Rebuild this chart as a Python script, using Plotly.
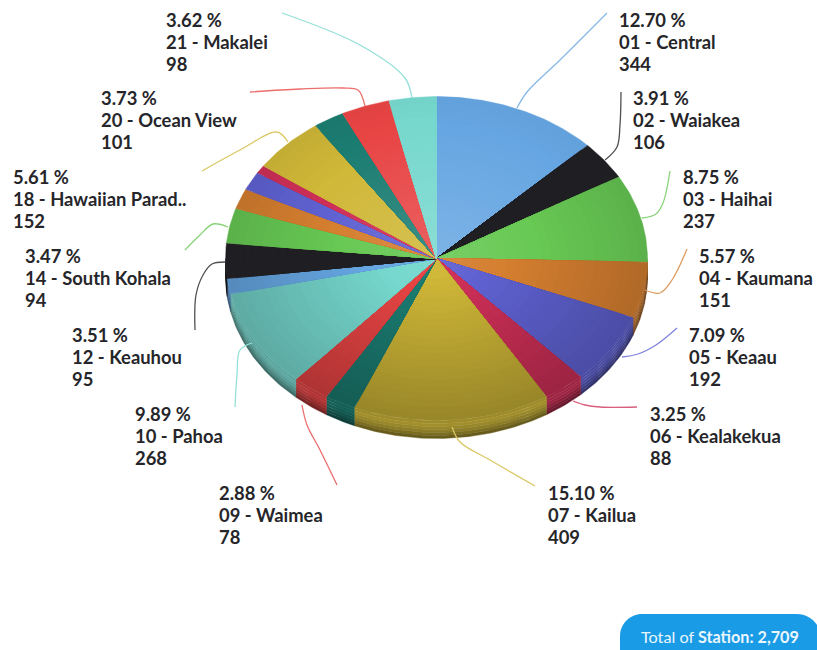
import numpy as np
import plotly.graph_objects as go

# ---- data ----
stations = ["01 - Central", "02 - Waiakea", "03 - Haihai", "04 - Kaumana", "05 - Keaau",
            "06 - Kealakekua", "07 - Kailua", "08", "09 - Waimea", "10 - Pahoa",
            "11", "12 - Keauhou", "14 - South Kohala", "15", "16", "17",
            "18 - Hawaiian Parad..", "19", "20 - Ocean View", "21 - Makalei"]
counts = [344, 106, 237, 151, 192, 88, 409, 64, 78, 268, 41, 95, 94, 55, 50, 22, 152, 64, 101, 98]
percent_labels = ["12.70", "3.91", "8.75", "5.57", "7.09", "3.25", "15.10", None, "2.88", "9.89",
                  None, "3.51", "3.47", None, None, None, "5.61", None, "3.73", "3.62"]
total_label = "2,709"

# ---- styling and layout ----
palette = ["#66a6e2", "#1f1f23", "#68c954", "#d57f30", "#6062d2",
           "#cf3058", "#d0b838", "#1c7d72", "#e84545", "#76d8ce"]
CX, CY, RX, RY, DEPTH = 436.5, 258.5, 211, 162, 18
RINGS = 24
LINE_GAP = 22
label_xy = {0: (619, 42), 1: (633, 120), 2: (683, 199), 3: (699, 278), 4: (689, 357), 5: (650, 436),
            6: (548, 515), 8: (219, 515), 9: (135, 436), 11: (72, 357), 12: (25, 278),
            16: (13, 199), 18: (101, 120), 19: (166, 42)}
leaders = {
    0: [(607, 13), (560, 60), (527, 92), (517, 108)],
    1: [(621, 92), (620, 125), (617, 147), (605, 160)],
    2: [(670, 171), (663, 203), (656, 214), (642, 218)],
    3: [(687, 249), (672, 280), (660, 293), (645, 290)],
    4: [(677, 328), (656, 345), (638, 354), (622, 357)],
    5: [(637, 407), (600, 407), (585, 405), (573, 401)],
    6: [(535, 486), (490, 460), (460, 442), (452, 427)],
    8: [(337, 485), (320, 450), (307, 425), (302, 405)],
    9: [(235, 407), (237, 375), (240, 350), (252, 343)],
    11: [(195, 330), (196, 295), (203, 275), (212, 264), (225, 262)],
    12: [(185, 250), (200, 235), (213, 224), (228, 227)],
    16: [(202, 171), (240, 150), (277, 132), (288, 142)],
    18: [(250, 92), (300, 89), (343, 88), (358, 90), (365, 106)],
    19: [(282, 13), (360, 45), (405, 78), (412, 98)],
}


def shade(color, f):
    rgb = np.array([int(color[i:i + 2], 16) for i in (1, 3, 5)], float)
    rgb = rgb * f if f <= 1 else rgb + (255 - rgb) * (f - 1)
    return "rgb(%d,%d,%d)" % tuple(np.clip(rgb, 0, 255))


def arc(a, b, rx, ry, dy=0.0):
    t = np.linspace(a, b, max(3, int((b - a) * 80)))
    return CX + rx * np.sin(t), CY + dy - ry * np.cos(t)


fig = go.Figure()
frac = np.array(counts, float) / sum(counts)
edges = np.concatenate([[0], np.cumsum(frac)]) * 2 * np.pi


def poly(x, y, color):
    fig.add_trace(go.Scatter(x=x, y=y, mode="lines", fill="toself", fillcolor=color,
                             line=dict(width=0.4, color=color), hoverinfo="skip", showlegend=False))


# side wall, visible on the lower half only
for i in range(len(counts)):
    col = palette[i % 10]
    a, b = max(edges[i], np.pi / 2), min(edges[i + 1], 1.5 * np.pi)
    if b <= a:
        continue
    strips = [(0, 0.76), (3, 0.78), (6, 0.74), (9, 0.68), (12, 0.60), (15, 0.50)]
    for k, (d0, f) in enumerate(strips):
        d1 = strips[k + 1][0] if k + 1 < len(strips) else DEPTH
        x0, y0 = arc(a, b, RX, RY, d0)
        x1, y1 = arc(a, b, RX, RY, d1)
        poly(np.r_[x0, x1[::-1], x0[0]], np.r_[y0, y1[::-1], y0[0]], shade(col, f))

# top face, painted from rim to centre
for i in range(len(counts)):
    col = palette[i % 10]
    a, b = edges[i], edges[i + 1]
    mid = (a + b) / 2
    for k in range(RINGS):
        s = 1 - k / RINGS
        down = -np.cos(mid)
        f = 1.16 - 0.24 * s - 0.12 * (0.5 + 0.5 * down) - 0.06 * s * down
        if i % 10 == 1:
            f = 1.0
        x, y = arc(a, b, RX * s, RY * s)
        poly(np.r_[CX, x, CX], np.r_[CY, y, CY], shade(col, f))

# leader lines
for i, pts in leaders.items():
    xs, ys = zip(*pts)
    fig.add_trace(go.Scatter(x=xs, y=ys, mode="lines", hoverinfo="skip", showlegend=False,
                             line=dict(color=shade(palette[i % 10], 1.22), width=1.3, shape="spline")))

# labels: three lines, each a text of its own
for i, (x, y) in label_xy.items():
    lines = [f"{percent_labels[i]} %", stations[i], str(counts[i])]
    for j, line in enumerate(lines):
        fig.add_annotation(x=x - 1, y=y + (j - 1) * LINE_GAP, xref="x", yref="y", xanchor="left",
                           yanchor="middle", align="left", showarrow=False, text=line, xshift=-1,
                           font=dict(family="Lato", size=18.4, color="#26262a", weight=700))

# total badge
fig.add_shape(type="path", xref="x", yref="y", fillcolor="#1a9be6", line_width=0,
              path="M 642 614 L 797 614 C 809 614 817 622 822 634 L 822 660 L 620 660 L 620 636 "
                   "C 620 624 630 614 642 614 Z")
fig.add_annotation(x=720, y=636, xref="x", yref="y", showarrow=False,
                   text=f"Total of <b>Station: {total_label}</b>",
                   font=dict(family="Lato", size=16.2, color="#eaf6fd"))

fig.update_layout(width=817, height=650, margin=dict(l=0, r=0, t=0, b=0), showlegend=False,
                  paper_bgcolor="white", plot_bgcolor="white",
                  xaxis=dict(range=[0, 817], visible=False, fixedrange=True),
                  yaxis=dict(range=[650, 0], visible=False, fixedrange=True))
fig.write_html("out.html", config={"displayModeBar": False},
               post_script="document.body.style.margin='0';")
